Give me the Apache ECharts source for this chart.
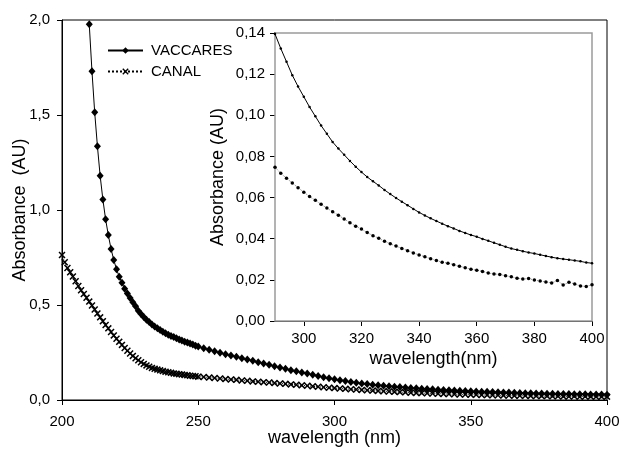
<!DOCTYPE html>
<html>
<head>
<meta charset="utf-8">
<script src="https://cdn.jsdelivr.net/npm/echarts@6/dist/echarts.min.js"></script>
<style>
html,body{margin:0;padding:0;background:#fff;}
#chart{width:619px;height:453px;}
</style>
</head>
<body>
<div id="chart"></div>
<script>
// ---- data ----
const canalWavelength = [
  200,201,202,203,204,205,206,207,208,209,210,211,212,213,214,215,216,217,218,219,
  220,221,222,223,224,225,226,227,228,229,230,231,232,233,234,235,236,237,238,239,
  240,241,242,243,244,245,246,247,248,249,250,
  252,254,256,258,260,262,264,266,268,270,272,274,276,278,280,282,284,286,288,
  290,292,294,296,298,300,302,304,306,308,310,312,314,316,318,320,322,324,326,328,
  330,332,334,336,338,340,342,344,346,348,350,352,354,356,358,360,362,364,366,368,
  370,372,374,376,378,380,382,384,386,388,390,392,394,396,398,400
];
const canalAbsorbance = [
  0.763,0.725,0.695,0.672,0.650,0.625,0.600,0.578,0.558,0.538,0.518,0.497,0.476,0.455,0.435,0.415,0.395,0.377,0.358,0.340,
  0.322,0.306,0.290,0.274,0.259,0.245,0.232,0.220,0.209,0.199,0.190,0.182,0.175,0.169,0.164,0.160,0.156,0.152,0.149,0.146,
  0.143,0.140,0.138,0.136,0.134,0.132,0.130,0.128,0.126,0.125,0.123,
  0.121,0.118,0.116,0.113,0.110,0.108,0.106,0.103,0.101,0.098,0.096,0.094,0.092,0.089,0.087,0.085,0.082,0.080,0.077,
  0.0748,0.0718,0.0694,0.0671,0.0648,0.0626,0.0605,0.0587,0.0567,0.0549,0.0531,0.0514,0.0496,0.0478,0.0461,0.0447,0.0430,0.0415,0.0402,0.0388,
  0.0375,0.0364,0.0353,0.0342,0.0331,0.0321,0.0312,0.0303,0.0294,0.0286,0.0281,0.0274,0.0266,0.0259,0.0252,0.0247,0.0241,0.0233,0.0229,0.0226,
  0.0220,0.0215,0.0208,0.0204,0.0206,0.0199,0.0194,0.0190,0.0185,0.0197,0.0175,0.0188,0.0180,0.0170,0.0168,0.0176
];
const vaccaresWavelength = [
  210,211,212,213,214,215,216,217,218,219,
  220,221,222,223,224,225,226,227,228,229,230,231,232,233,234,235,236,237,238,239,
  240,241,242,243,244,245,246,247,248,249,250,
  252,254,256,258,260,262,264,266,268,270,272,274,276,278,280,282,284,286,288,
  290,292,294,296,298,300,302,304,306,308,310,312,314,316,318,320,322,324,326,328,
  330,332,334,336,338,340,342,344,346,348,350,352,354,356,358,360,362,364,366,368,
  370,372,374,376,378,380,382,384,386,388,390,392,394,396,398,400
];
const vaccaresAbsorbance = [
  1.977,1.730,1.514,1.335,1.180,1.055,0.951,0.868,0.795,0.737,
  0.688,0.649,0.617,0.586,0.560,0.537,0.515,0.494,0.470,0.452,0.437,0.423,0.410,0.398,0.387,0.377,0.368,0.359,0.351,0.344,
  0.337,0.331,0.325,0.319,0.313,0.307,0.302,0.297,0.292,0.286,0.281,
  0.273,0.265,0.257,0.249,0.241,0.234,0.227,0.220,0.213,0.206,0.199,0.192,0.185,0.178,0.171,0.164,0.157,0.151,0.145,
  0.1395,0.1325,0.1260,0.1195,0.1140,0.1090,0.1040,0.0995,0.0950,0.0910,0.0870,0.0838,0.0808,0.0778,0.0750,0.0724,0.0700,0.0679,0.0659,0.0637,
  0.0617,0.0598,0.0580,0.0563,0.0545,0.0528,0.0513,0.0499,0.0486,0.0473,0.0461,0.0450,0.0438,0.0428,0.0418,0.0410,0.0399,0.0390,0.0380,0.0371,
  0.0361,0.0352,0.0346,0.0339,0.0333,0.0328,0.0322,0.0316,0.0310,0.0305,0.0301,0.0298,0.0294,0.0290,0.0284,0.0281
];
const seriesNames = ['VACCARES', 'CANAL'];
const mainXTicks = [200, 250, 300, 350, 400];
const mainYTicks = [0, 0.5, 1.0, 1.5, 2.0];
const insetXTicks = [300, 320, 340, 360, 380, 400];
const insetYTicks = [0, 0.02, 0.04, 0.06, 0.08, 0.10, 0.12, 0.14];

// ---- chart ----
const FONT = '"Liberation Sans", Arial, sans-serif';
const pairs = (xs, ys) => xs.map((x, i) => [x, ys[i]]);
const vacc = pairs(vaccaresWavelength, vaccaresAbsorbance);
const canal = pairs(canalWavelength, canalAbsorbance);
const crossPath = 'path://M0,1.5L1.5,0L5,3.5L8.5,0L10,1.5L6.5,5L10,8.5L8.5,10L5,6.5L1.5,10L0,8.5L3.5,5Z';
const comma = d => v => v.toFixed(d).replace('.', ',');

const chart = echarts.init(document.getElementById('chart'), null, {renderer: 'canvas'});
const axisLine = {show: true, onZero: false, lineStyle: {color: '#000', width: 1}};
const label = {color: '#000', fontFamily: FONT, fontSize: 15};
const nameStyle = {color: '#000', fontFamily: FONT, fontSize: 18};

chart.setOption({
  backgroundColor: '#fff',
  animation: false,
  textStyle: {fontFamily: FONT},
  legend: {
    data: [
      {name: seriesNames[0]},
      {name: seriesNames[1]}
    ],
    orient: 'vertical',
    left: 107, top: 43, padding: 0,
    itemWidth: 35, itemHeight: 8, itemGap: 6,
    textStyle: {color: '#000', fontFamily: FONT, fontSize: 15, padding: [0, 0, 0, 3]},
    selectedMode: false
  },
  grid: [
    {left: 62, right: 12, top: 20, bottom: 53, show: true, borderColor: '#000', borderWidth: 1,
     backgroundColor: 'transparent', containLabel: false, outerBoundsMode: 'none'},
    {left: 275, top: 33, width: 317, height: 288, show: true, borderColor: '#9a9a9a', borderWidth: 1.5,
     backgroundColor: '#fff', z: 5, containLabel: false, outerBoundsMode: 'none'}
  ],
  xAxis: [
    {
      type: 'value', gridIndex: 0, min: 200, max: 400, interval: 50,
      axisLine: axisLine, splitLine: {show: false},
      axisTick: {show: true, length: 5, lineStyle: {color: '#000'}, customValues: mainXTicks},
      axisLabel: Object.assign({margin: 14, customValues: mainXTicks}, label),
      name: 'wavelength (nm)', nameLocation: 'middle', nameGap: 29, nameMoveOverlap: false, nameTextStyle: nameStyle
    },
    {
      type: 'value', gridIndex: 1, min: 290, max: 400, interval: 10,
      axisLine: axisLine, splitLine: {show: false},
      axisTick: {show: true, length: 5, lineStyle: {color: '#000'}, customValues: insetXTicks},
      axisLabel: Object.assign({margin: 10, customValues: insetXTicks}, label),
      name: 'wavelength(nm)', nameLocation: 'middle', nameGap: 29, nameMoveOverlap: false, nameTextStyle: nameStyle
    }
  ],
  yAxis: [
    {
      type: 'value', gridIndex: 0, min: 0, max: 2, interval: 0.5,
      axisLine: axisLine, splitLine: {show: false},
      axisTick: {show: true, length: 5, lineStyle: {color: '#000'}, customValues: mainYTicks},
      axisLabel: Object.assign({margin: 12, formatter: comma(1), customValues: mainYTicks}, label),
      name: 'Absorbance  (AU)', nameLocation: 'middle', nameGap: 33, nameMoveOverlap: false, nameRotate: 90, nameTextStyle: nameStyle
    },
    {
      type: 'value', gridIndex: 1, min: 0, max: 0.14, interval: 0.02,
      axisLine: axisLine, splitLine: {show: false},
      axisTick: {show: true, length: 5, lineStyle: {color: '#000'}, customValues: insetYTicks},
      axisLabel: Object.assign({margin: 10, formatter: comma(2), customValues: insetYTicks}, label),
      name: 'Absorbance (AU)', nameLocation: 'middle', nameGap: 48, nameMoveOverlap: false, nameRotate: 90, nameTextStyle: nameStyle
    }
  ],
  series: [
    {
      name: seriesNames[0], type: 'line', xAxisIndex: 0, yAxisIndex: 0, data: vacc,
      symbol: 'diamond', symbolSize: [7, 8], showAllSymbol: true,
      lineStyle: {color: '#000', width: 1}, itemStyle: {color: '#000'}, z: 3
    },
    {
      name: seriesNames[1], type: 'line', xAxisIndex: 0, yAxisIndex: 0, data: canal,
      symbol: crossPath, symbolSize: 7, showAllSymbol: true,
      lineStyle: {color: '#000', width: 1, type: 'dotted'}, itemStyle: {color: '#000'}, z: 3
    },
    {
      name: seriesNames[0] + ' inset', type: 'line', xAxisIndex: 1, yAxisIndex: 1, data: vacc,
      symbol: 'circle', symbolSize: 2.5, showAllSymbol: true, clip: true,
      lineStyle: {color: '#000', width: 1}, itemStyle: {color: '#000'}, z: 6
    },
    {
      name: seriesNames[1] + ' inset', type: 'line', xAxisIndex: 1, yAxisIndex: 1, data: canal,
      symbol: 'circle', symbolSize: 3.5, showAllSymbol: true, clip: true,
      lineStyle: {color: '#888', width: 1, type: 'dotted'}, itemStyle: {color: '#000'}, z: 6
    }
  ]
});
</script>
</body>
</html>
